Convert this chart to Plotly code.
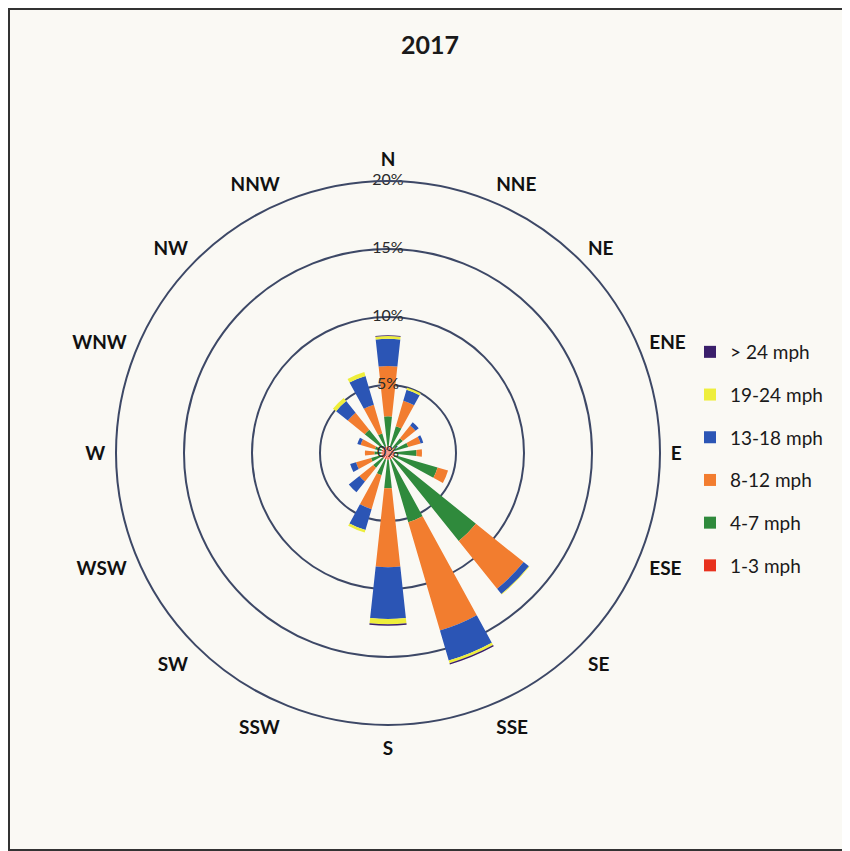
import plotly.graph_objects as go

directions = ["N", "NNE", "NE", "ENE", "E", "ESE", "SE", "SSE",
              "S", "SSW", "SW", "WSW", "W", "WNW", "NW", "NNW"]

speed_bins = ["1-3 mph", "4-7 mph", "8-12 mph", "13-18 mph", "19-24 mph", "> 24 mph"]

# percentage of time per direction, per speed bin (stacked segments)
mph_1_3   = [0.5, 0.5, 0.5, 0.5, 0.5, 0.5, 0.5, 0.5, 0.5, 0.5, 0.5, 0.5, 0.5, 0.5, 0.5, 0.5]
mph_4_7   = [2.2, 1.55, 0.9, 1.05, 1.6, 3.3, 7.8, 4.8, 2.1, 1.2, 0.9, 0.8, 0.5, 0.5, 1.7, 1.0]
mph_8_12  = [3.7, 1.95, 1.2, 0.95, 0.4, 0.8, 4.5, 8.3, 5.8, 2.6, 1.3, 1.15, 0.7, 1.1, 1.6, 2.2]
mph_13_18 = [2.0, 0.85, 0.3, 0.2, 0.0, 0.0, 0.5, 2.3, 3.8, 1.6, 1.0, 0.45, 0.0, 0.25, 1.1, 2.2]
mph_19_24 = [0.2, 0.15, 0.0, 0.0, 0.0, 0.0, 0.05, 0.2, 0.4, 0.2, 0.0, 0.0, 0.0, 0.0, 0.3, 0.3]
mph_24_up = [0.05, 0.0, 0.0, 0.0, 0.0, 0.0, 0.0, 0.1, 0.1, 0.0, 0.0, 0.0, 0.0, 0.0, 0.0, 0.0]

series = [mph_1_3, mph_4_7, mph_8_12, mph_13_18, mph_19_24, mph_24_up]
colors = ["#e8321e", "#2f8a3c", "#f27d2f", "#2b55b5", "#eeee3c", "#3a1f6b"]

radial_ticks = [0, 5, 10, 15, 20]
radial_labels = ["0%", "5%", "10%", "15%", "20%"]

W, H = 842, 843  # page body has an 8px margin

fig = go.Figure()
for i, (name, vals, col) in enumerate(zip(speed_bins, series, colors)):
    fig.add_trace(go.Barpolar(
        r=vals, theta=directions, name=name, legendgroup=name,
        legendrank=100 - i,
        marker=dict(color=col, line=dict(width=0)),
    ))

# radial percentage labels along the north axis
fig.add_trace(go.Scatterpolar(
    r=radial_ticks, theta=["N"] * len(radial_ticks), mode="text",
    text=radial_labels, textposition="middle center",
    textfont=dict(family="Lato", size=16, color="#2a2a2a"),
    showlegend=False, hoverinfo="skip",
))

grid_col = "#3d4866"
fig.update_layout(
    width=W, height=H,
    margin=dict(l=0, r=0, t=0, b=0),
    paper_bgcolor="#faf9f4",
    plot_bgcolor="#faf9f4",
    font=dict(family="Lato", color="#1a1a1a"),
    title=dict(text="<b>2017</b>", x=422 / W, xanchor="center",
               y=1 - 37 / H, yanchor="middle",
               font=dict(family="Lato", size=25, color="#1a1a1a")),
    polar=dict(
        domain=dict(x=[108 / W, 652 / W], y=[1 - 717 / H, 1 - 173 / H]),
        bgcolor="rgba(0,0,0,0)",
        bargap=0.45,
        radialaxis=dict(range=[0, 20], tickvals=radial_ticks, showticklabels=False,
                        ticks="", showline=False, gridcolor=grid_col, gridwidth=2,
                        angle=90),
        angularaxis=dict(direction="clockwise", rotation=90, categoryorder="array",
                         categoryarray=directions, showgrid=False, showline=True,
                         linecolor=grid_col, linewidth=2, ticks="outside", ticklen=6,
                         tickcolor="rgba(0,0,0,0)",
                         tickfont=dict(family="Lato", size=19, color="#111111",
                                       weight="bold")),
    ),
    legend=dict(x=682 / W, y=1 - 325 / H, xanchor="left", yanchor="top",
                traceorder="grouped", tracegroupgap=15,
                bgcolor="rgba(0,0,0,0)",
                font=dict(family="Lato", size=19, color="#1a1a1a")),
    shapes=[dict(type="rect", xref="paper", yref="paper",
                 x0=1 / W, x1=841 / W, y0=1 / H, y1=1 - 1 / H,
                 line=dict(color="#333333", width=2), fillcolor="rgba(0,0,0,0)")],
)

fig.write_html("out.html")
